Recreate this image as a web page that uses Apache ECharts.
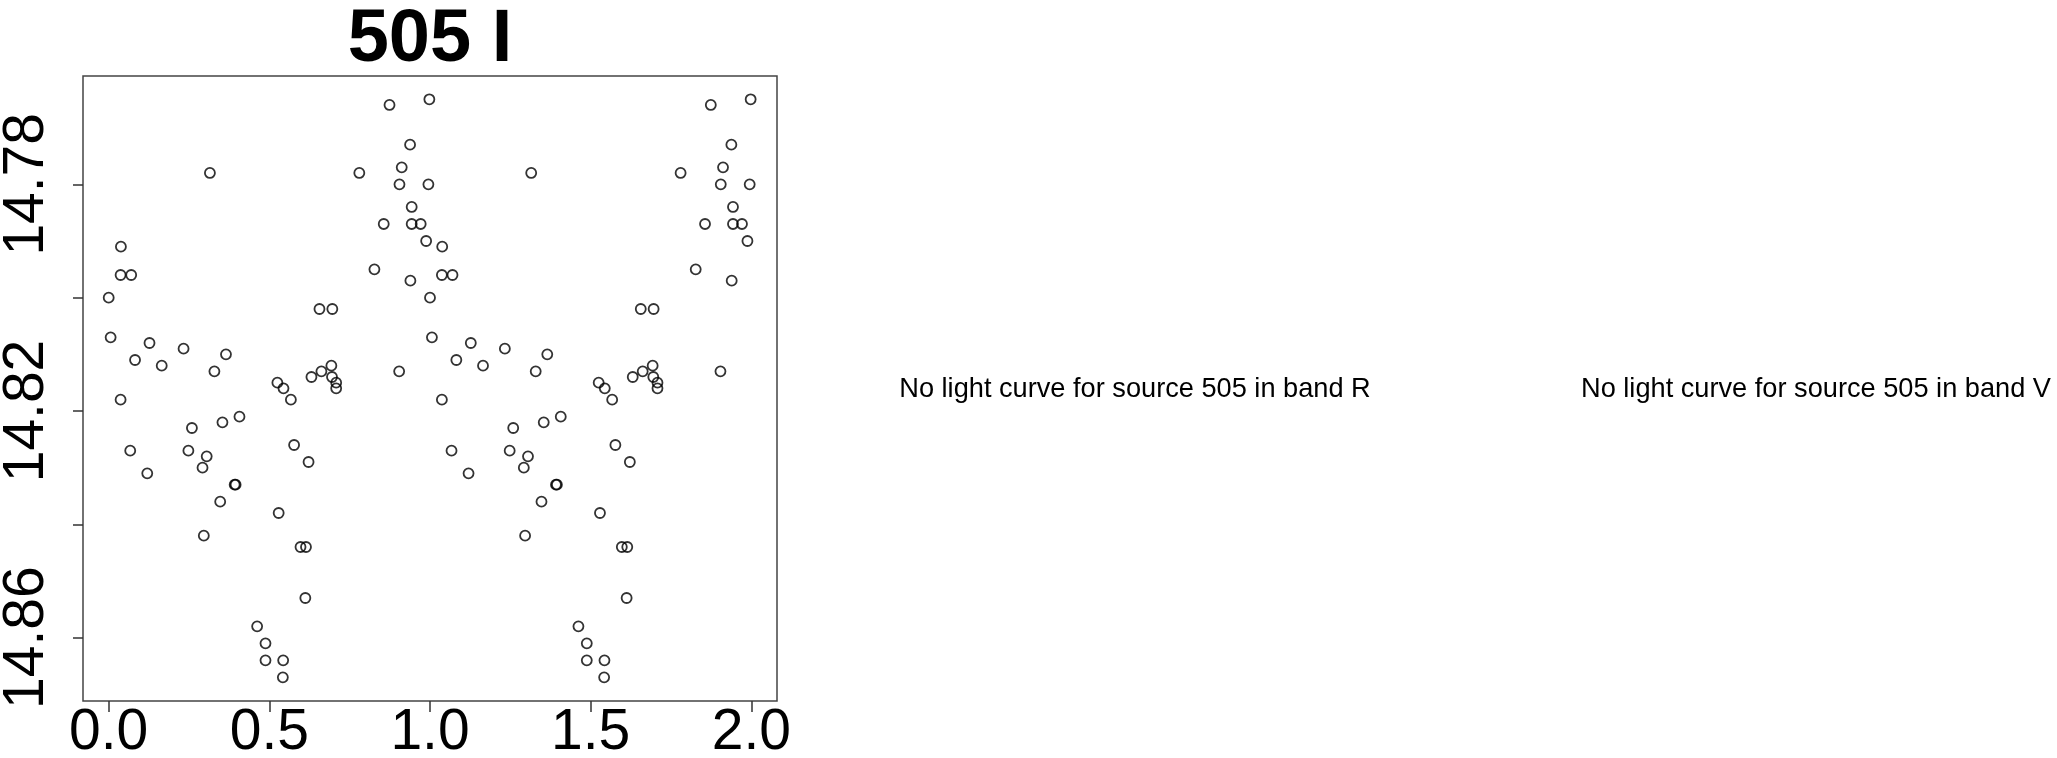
<!DOCTYPE html>
<html>
<head>
<meta charset="utf-8">
<script src="https://cdn.jsdelivr.net/npm/echarts@6/dist/echarts.min.js"></script>
<style>
html,body{margin:0;padding:0;background:#fff;}
#chart{width:2057px;height:758px;}
</style>
</head>
<body>
<div id="chart"></div>
<script>
// Phase-folded light curve of source 505, band I
const phase = [0.000,0.006,0.038,0.037,0.070,0.082,0.037,0.067,0.127,0.165,0.120,0.233,0.315,0.365,0.329,0.259,0.248,0.305,0.292,0.354,0.407,0.392,0.395,0.347,0.296,0.525,0.544,0.567,0.577,0.622,0.529,0.597,0.614,0.612,0.462,0.488,0.488,0.543,0.542,0.631,0.662,0.656,0.696,0.693,0.695,0.708,0.708,0.780,0.827,0.856,0.874,0.912,0.905,0.904,0.938,0.943,0.943,0.971,0.939,0.988,0.995,0.998];
const mag   = [14.800,14.807,14.791,14.796,14.796,14.811,14.818,14.827,14.808,14.812,14.831,14.809,14.778,14.810,14.813,14.823,14.827,14.828,14.830,14.822,14.821,14.833,14.833,14.836,14.842,14.815,14.816,14.818,14.826,14.829,14.838,14.844,14.844,14.853,14.858,14.861,14.864,14.864,14.867,14.814,14.813,14.802,14.802,14.812,14.814,14.815,14.816,14.778,14.795,14.787,14.766,14.777,14.780,14.813,14.773,14.784,14.787,14.787,14.797,14.790,14.780,14.765];
const xTicks = [0, 0.5, 1.0, 1.5, 2.0];
const yTicks = [14.78, 14.80, 14.82, 14.84, 14.86];
const yLabels = [14.78, 14.82, 14.86];
const titleText = '505 I';
const noteR = 'No light curve for source 505 in band R';
const noteV = 'No light curve for source 505 in band V';

// two cycles are plotted, as in the original phase plot
const points = phase.map((p, i) => [p, mag[i]]).concat(phase.map((p, i) => [p + 1, mag[i]]));

const FONT = '"Liberation Sans", Arial, Helvetica, sans-serif';
const chart = echarts.init(document.getElementById('chart'), null, {renderer: 'canvas'});
chart.setOption({
  animation: false,
  backgroundColor: '#fff',
  grid: {left: 83, top: 76, width: 694, height: 625, show: true, borderColor: '#444', borderWidth: 1.5,
         backgroundColor: 'transparent', containLabel: false, outerBoundsMode: 'none'},
  xAxis: {
    type: 'value', min: -0.08, max: 2.08,
    splitLine: {show: false},
    axisLine: {show: false, onZero: false},
    axisTick: {show: true, customValues: xTicks, length: 11, inside: false, lineStyle: {color: '#333', width: 1.5}},
    axisLabel: {show: true, customValues: xTicks, margin: 4, fontSize: 57, lineHeight: 57, color: '#000', fontFamily: FONT,
      hideOverlap: false, formatter: v => Number(v).toFixed(1)}
  },
  yAxis: {
    type: 'value', inverse: true, min: 14.76089, max: 14.87117,
    splitLine: {show: false},
    axisLine: {show: false, onZero: false},
    axisTick: {show: true, customValues: yTicks, length: 10, inside: false, lineStyle: {color: '#333', width: 1.5}},
    axisLabel: {show: true, customValues: yLabels, rotate: 90, margin: 27, fontSize: 57, lineHeight: 57, color: '#000', fontFamily: FONT,
      hideOverlap: false, formatter: v => Number(v).toFixed(2)}
  },
  series: [{
    type: 'scatter',
    data: points,
    symbol: 'circle',
    symbolSize: 10,
    itemStyle: {color: 'rgba(0,0,0,0)', borderColor: '#000', borderWidth: 1.8},
    emphasis: {disabled: true}
  }],
  graphic: [
    {type: 'text', x: 430, y: 41, style: {text: titleText, align: 'center', verticalAlign: 'middle', font: 'bold 74px ' + FONT, fill: '#000'}},
    {type: 'text', x: 1135, y: 390, style: {text: noteR, align: 'center', verticalAlign: 'middle', font: '27.2px ' + FONT, fill: '#000'}},
    {type: 'text', x: 1816, y: 390, style: {text: noteV, align: 'center', verticalAlign: 'middle', font: '27.2px ' + FONT, fill: '#000'}}
  ]
});
</script>
</body>
</html>
